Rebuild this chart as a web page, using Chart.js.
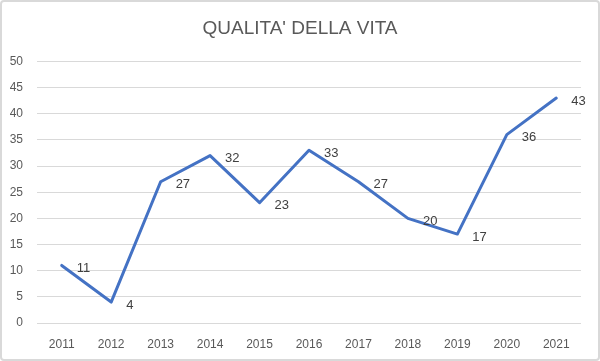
<!DOCTYPE html>
<html>
<head>
<meta charset="utf-8">
<script src="https://cdn.jsdelivr.net/npm/chart.js@4.4.0/dist/chart.umd.min.js"></script>
<style>
  html, body { margin: 0; padding: 0; background: #fff; }
  #wrap { position: relative; width: 600px; height: 361px; }
  #frame {
    position: absolute; left: 0; top: 0; width: 600px; height: 361px;
    box-sizing: border-box; border: 2px solid #d9d9d9; border-radius: 4px;
    pointer-events: none;
  }
</style>
</head>
<body>
<div id="wrap">
  <canvas id="chart" width="600" height="361"></canvas>
  <div id="frame"></div>
</div>
<script>
// Data
const years = ['2011', '2012', '2013', '2014', '2015', '2016', '2017', '2018', '2019', '2020', '2021'];
const values = [11, 4, 27, 32, 23, 33, 27, 20, 17, 36, 43];
const titleText = "QUALITA' DELLA VITA";

// value labels drawn just right of each point
const pointLabels = {
  id: 'pointLabels',
  afterDatasetsDraw(chart) {
    const ctx = chart.ctx;
    const meta = chart.getDatasetMeta(0);
    ctx.save();
    ctx.font = '13px "Liberation Sans", Arial, sans-serif';
    ctx.fillStyle = '#404040';
    ctx.textAlign = 'left';
    ctx.textBaseline = 'middle';
    meta.data.forEach(function(pt, i) {
      ctx.fillText(String(values[i]), pt.x + 15, pt.y + 3);
    });
    ctx.restore();
  }
};

const tickFont = { family: '"Liberation Sans", Arial, sans-serif', size: 12 };

new Chart(document.getElementById('chart'), {
  type: 'line',
  data: {
    labels: years,
    datasets: [{
      data: values,
      borderColor: '#4472C4',
      borderWidth: 3,
      borderJoinStyle: 'round',
      borderCapStyle: 'round',
      tension: 0,
      pointRadius: 0,
      fill: false
    }]
  },
  options: {
    responsive: false,
    animation: false,
    layout: { padding: 0 },
    plugins: {
      legend: { display: false },
      tooltip: { enabled: false },
      title: {
        display: true,
        text: titleText,
        color: '#595959',
        font: { family: '"Liberation Sans", Arial, sans-serif', size: 19, weight: 'normal', lineHeight: 1.2 },
        padding: { top: 17, bottom: 21.6 }
      }
    },
    scales: {
      x: {
        offset: true,
        grid: { display: false, drawTicks: false },
        border: { display: false },
        ticks: { color: '#595959', font: tickFont, padding: 14, maxRotation: 0 },
        afterFit: function(scale) { scale.height = 38; }
      },
      y: {
        min: 0,
        max: 50,
        ticks: { stepSize: 5, color: '#595959', font: tickFont, padding: 14 },
        grid: { color: '#d9d9d9', lineWidth: 1, drawTicks: false },
        border: { display: false },
        afterFit: function(scale) { scale.width = 37; }
      },
      // empty right-hand scale, only used as right margin
      yRight: {
        position: 'right',
        min: 0,
        max: 50,
        ticks: { display: false },
        grid: { display: false, drawTicks: false },
        border: { display: false },
        afterFit: function(scale) { scale.width = 19; }
      }
    }
  },
  plugins: [pointLabels]
});
</script>
</body>
</html>
